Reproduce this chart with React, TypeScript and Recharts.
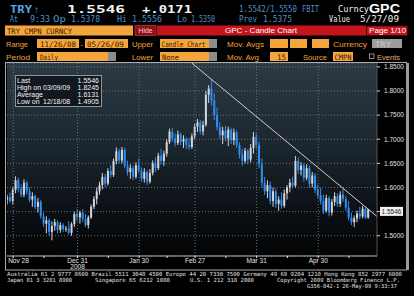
import React from 'react';
import { ComposedChart, Bar, XAxis, YAxis, CartesianGrid, ReferenceLine } from 'recharts';

// Daily TRY candles, 11/26/08 - 05/26/09 (weekdays)
const OPEN = [
  1.575, 1.580, 1.572, 1.595, 1.615, 1.598, 1.585, 1.610, 1.592, 1.575,
  1.582, 1.560, 1.570, 1.540, 1.525, 1.532, 1.508, 1.520, 1.528, 1.512,
  1.522, 1.514, 1.515, 1.506, 1.524, 1.545, 1.538, 1.548, 1.535, 1.522,
  1.538, 1.560, 1.576, 1.592, 1.605, 1.622, 1.608, 1.634, 1.626, 1.655,
  1.675, 1.656, 1.678, 1.645, 1.632, 1.640, 1.622, 1.646, 1.635, 1.618,
  1.632, 1.612, 1.630, 1.650, 1.640, 1.666, 1.655, 1.670, 1.694, 1.716,
  1.702, 1.692, 1.710, 1.695, 1.700, 1.688, 1.684, 1.706, 1.726, 1.735,
  1.716, 1.730, 1.792, 1.805, 1.780, 1.750, 1.725, 1.708, 1.718, 1.702,
  1.720, 1.698, 1.714, 1.688, 1.668, 1.655, 1.676, 1.658, 1.682, 1.705,
  1.688, 1.648, 1.610, 1.592, 1.605, 1.572, 1.592, 1.566, 1.575, 1.562,
  1.588, 1.600, 1.610, 1.604, 1.655, 1.636, 1.645, 1.620, 1.640, 1.608,
  1.625, 1.595, 1.584, 1.572, 1.552, 1.578, 1.548, 1.570, 1.582, 1.566,
  1.585, 1.576, 1.558, 1.538, 1.528, 1.536, 1.546, 1.540, 1.556, 1.5378,
];
const HIGH = [
  1.585, 1.590, 1.600, 1.623, 1.620, 1.606, 1.617, 1.614, 1.600, 1.590,
  1.585, 1.578, 1.574, 1.548, 1.540, 1.536, 1.530, 1.535, 1.532, 1.528,
  1.526, 1.520, 1.530, 1.528, 1.550, 1.556, 1.552, 1.555, 1.545, 1.542,
  1.565, 1.582, 1.600, 1.612, 1.630, 1.628, 1.640, 1.646, 1.660, 1.683,
  1.680, 1.684, 1.682, 1.655, 1.648, 1.645, 1.652, 1.660, 1.642, 1.640,
  1.636, 1.638, 1.656, 1.662, 1.672, 1.680, 1.676, 1.700, 1.722, 1.724,
  1.712, 1.718, 1.714, 1.708, 1.704, 1.702, 1.712, 1.732, 1.742, 1.740,
  1.738, 1.800, 1.812, 1.8245, 1.795, 1.766, 1.735, 1.726, 1.728, 1.726,
  1.724, 1.722, 1.718, 1.694, 1.680, 1.682, 1.680, 1.690, 1.715, 1.712,
  1.695, 1.660, 1.622, 1.615, 1.612, 1.600, 1.598, 1.582, 1.590, 1.596,
  1.605, 1.618, 1.622, 1.665, 1.662, 1.652, 1.650, 1.648, 1.645, 1.632,
  1.630, 1.606, 1.600, 1.585, 1.585, 1.582, 1.576, 1.590, 1.588, 1.592,
  1.598, 1.582, 1.572, 1.548, 1.542, 1.552, 1.560, 1.562, 1.560, 1.5556,
];
const LOW = [
  1.565, 1.568, 1.565, 1.588, 1.590, 1.580, 1.580, 1.585, 1.570, 1.560,
  1.555, 1.548, 1.535, 1.518, 1.505, 1.500, 1.4905, 1.510, 1.505, 1.506,
  1.508, 1.508, 1.502, 1.500, 1.518, 1.530, 1.525, 1.528, 1.518, 1.515,
  1.535, 1.555, 1.565, 1.585, 1.596, 1.600, 1.604, 1.620, 1.622, 1.648,
  1.650, 1.650, 1.640, 1.625, 1.618, 1.615, 1.618, 1.630, 1.612, 1.610,
  1.605, 1.608, 1.625, 1.632, 1.636, 1.648, 1.645, 1.664, 1.690, 1.695,
  1.685, 1.688, 1.688, 1.682, 1.680, 1.678, 1.680, 1.700, 1.715, 1.710,
  1.708, 1.726, 1.775, 1.770, 1.740, 1.718, 1.700, 1.690, 1.696, 1.686,
  1.690, 1.688, 1.682, 1.660, 1.645, 1.650, 1.648, 1.652, 1.670, 1.680,
  1.640, 1.600, 1.585, 1.578, 1.565, 1.560, 1.558, 1.552, 1.556, 1.558,
  1.575, 1.590, 1.598, 1.600, 1.628, 1.625, 1.612, 1.615, 1.600, 1.600,
  1.588, 1.578, 1.565, 1.545, 1.548, 1.540, 1.542, 1.562, 1.560, 1.560,
  1.570, 1.552, 1.532, 1.522, 1.518, 1.528, 1.534, 1.536, 1.535, 1.535,
];
const CLOSE = [
  1.580, 1.572, 1.595, 1.615, 1.598, 1.585, 1.610, 1.592, 1.575, 1.582,
  1.560, 1.570, 1.540, 1.525, 1.532, 1.508, 1.520, 1.528, 1.512, 1.522,
  1.514, 1.515, 1.506, 1.524, 1.545, 1.538, 1.548, 1.535, 1.522, 1.538,
  1.560, 1.576, 1.592, 1.605, 1.622, 1.608, 1.634, 1.626, 1.655, 1.675,
  1.656, 1.678, 1.645, 1.632, 1.640, 1.622, 1.646, 1.635, 1.618, 1.632,
  1.612, 1.630, 1.650, 1.640, 1.666, 1.655, 1.670, 1.694, 1.716, 1.702,
  1.692, 1.710, 1.695, 1.700, 1.688, 1.684, 1.706, 1.726, 1.735, 1.716,
  1.730, 1.792, 1.805, 1.780, 1.750, 1.725, 1.708, 1.718, 1.702, 1.720,
  1.698, 1.714, 1.688, 1.668, 1.655, 1.676, 1.658, 1.682, 1.705, 1.688,
  1.648, 1.610, 1.592, 1.605, 1.572, 1.592, 1.566, 1.575, 1.562, 1.588,
  1.600, 1.610, 1.604, 1.655, 1.636, 1.645, 1.620, 1.640, 1.608, 1.625,
  1.595, 1.584, 1.572, 1.552, 1.578, 1.548, 1.570, 1.582, 1.566, 1.585,
  1.576, 1.558, 1.538, 1.528, 1.536, 1.546, 1.540, 1.556, 1.5375, 1.5546,
];

// x ticks are trading-day indexes
const MAJOR_TICKS = [2, 25, 47, 67, 89, 111];
const MAJOR_LABELS = ['Nov 28', 'Dec 31', 'Jan 30', 'Feb 27', 'Mar 31', 'Apr 30'];
const MINOR_TICKS = [13, 36, 57, 78, 100, 122];
const YEAR_LABEL = { index: 25, text: '2008' };
const Y_TICKS = [1.5, 1.55, 1.6, 1.65, 1.7, 1.75, 1.8, 1.85];

// hand-drawn trend line (day index, price)
const TREND = [{ x: 65.8, y: 1.858 }, { x: 132, y: 1.54 }];

const LAST = 1.5546;
const STATS = [
  { label: 'Last', date: '', value: '1.5546' },
  { label: 'High on', date: '03/09/09', value: '1.8245' },
  { label: 'Average', date: '', value: '1.6131' },
  { label: 'Low on', date: '12/18/08', value: '1.4905' },
];

const UP_COLOR = '#d2d6da';
const DOWN_COLOR = '#2f8ef0';
const ORANGE_TEXT = '#f2a234';
const ORANGE_BOX = '#f4a53c';
const BOX_TEXT = '#3a2000';
const GRAY_END = '#8d8d8d';
const RED = '#c4141e';
const BLUE_TEXT = '#4a92cc';
const SANS = "'Liberation Sans', Arial, sans-serif";
const MONO = "'DejaVu Sans Mono', monospace";

const candles = CLOSE.map((c, i) => ({
  i,
  open: OPEN[i],
  high: HIGH[i],
  low: LOW[i],
  close: c,
  range: [LOW[i], HIGH[i]],
}));

// eslint-disable-next-line @typescript-eslint/no-explicit-any
function Candle(props: any) {
  const { x, y, width, height, payload } = props;
  if (x == null || !payload) return null;
  const { open, high, low, close } = payload;
  const top = Math.min(y, y + height);
  const h = Math.abs(height);
  const pxPer = h / (high - low || 1e-6);
  const bodyTop = top + (high - Math.max(open, close)) * pxPer;
  const bodyBot = top + (high - Math.min(open, close)) * pxPer;
  const color = close >= open ? UP_COLOR : DOWN_COLOR;
  const cx = x + width / 2;
  return (
    <g>
      <line x1={cx} x2={cx} y1={top} y2={top + h} stroke={color} strokeWidth={1} />
      <rect x={x} y={bodyTop} width={width} height={Math.max(1, bodyBot - bodyTop)} fill={color} />
    </g>
  );
}

// eslint-disable-next-line @typescript-eslint/no-explicit-any
function XTick(props: any) {
  const { x, y, payload } = props;
  const idx = MAJOR_TICKS.indexOf(payload.value);
  if (idx < 0) {
    return <line x1={x} x2={x} y1={y} y2={y + 2} stroke="#e8e8e8" />;
  }
  const first = idx === 0;
  return (
    <g>
      <line x1={x} x2={x} y1={y} y2={y + 2} stroke="#e8e8e8" />
      <text
        x={first ? x - 5 : x}
        y={y + 6.5}
        textAnchor={first ? 'start' : 'middle'}
        fill="#e6e6e6"
        fontSize={6.5}
        fontFamily={SANS}
      >
        {MAJOR_LABELS[idx]}
      </text>
      {payload.value === YEAR_LABEL.index && (
        <text x={x} y={y + 12.5} textAnchor="middle" fill="#e6e6e6" fontSize={6.5} fontFamily={SANS}>
          {YEAR_LABEL.text}
        </text>
      )}
    </g>
  );
}

// eslint-disable-next-line @typescript-eslint/no-explicit-any
function LastTag(props: any) {
  const vb = props.viewBox;
  if (!vb) return null;
  const left = vb.x + vb.width + 3;
  return (
    <g>
      <rect x={left} y={vb.y - 2.5} width={23} height={9} fill="#f2f2f2" />
      <text x={left + 11.5} y={vb.y + 4.3} textAnchor="middle" fill="#1a1a1a" fontSize={6.5} fontFamily={SANS}>
        {LAST.toFixed(4)}
      </text>
    </g>
  );
}

// the last-price tag sits over this tick's label, as on the screen
const hiddenTickLabel = (v: number) => Math.abs(v - LAST) < 0.01;

type TProps = {
  x: number;
  y: number;
  w?: number;
  size: number;
  fill: string;
  font?: string;
  bold?: boolean;
  anchor?: 'start' | 'middle' | 'end';
  children: React.ReactNode;
};

function T({ x, y, w, size, fill, font = SANS, bold, anchor = 'start', children }: TProps) {
  return (
    <text
      x={x}
      y={y}
      fontSize={size}
      fill={fill}
      fontFamily={font}
      fontWeight={bold ? 'bold' : 'normal'}
      textAnchor={anchor}
      textLength={w}
      lengthAdjust={w ? 'spacingAndGlyphs' : undefined}
    >
      {children}
    </text>
  );
}

function Header() {
  return (
    <g>
      {/* ticker line */}
      <T x={10} y={13} w={22} size={10} fill="#55a8ea" font={MONO} bold>TRY</T>
      <T x={34} y={13} w={5} size={10} fill="#55a8ea" font={SANS} bold>↑</T>
      <T x={67} y={13} w={58} size={11} fill="#f4f4f4" font={MONO} bold>1.5546</T>
      <T x={142} y={13} w={50} size={11} fill="#f4f4f4" font={MONO} bold>+.0171</T>
      <T x={239} y={12} w={58} size={8} fill={BLUE_TEXT} font={MONO}>1.5542/1.5550</T>
      <T x={302} y={12} w={17} size={8} fill={BLUE_TEXT} font={MONO}>FBIT</T>
      <T x={338} y={12} w={31} size={8.5} fill="#f0f0f0" font={MONO}>Curncy</T>
      <T x={369} y={13} w={31} size={12.5} fill="#ffffff" bold>GPC</T>

      <T x={10} y={22} w={8} size={8} fill={BLUE_TEXT} font={MONO}>At</T>
      <T x={30} y={22} w={20} size={8} fill={BLUE_TEXT} font={MONO}>9:33</T>
      <T x={53} y={22} w={13} size={8} fill={BLUE_TEXT} font={MONO}>Op</T>
      <T x={71} y={22} w={29} size={8} fill={BLUE_TEXT} font={MONO}>1.5378</T>
      <T x={117} y={22} w={10} size={8} fill={BLUE_TEXT} font={MONO}>Hi</T>
      <T x={132} y={22} w={30} size={8} fill={BLUE_TEXT} font={MONO}>1.5556</T>
      <T x={177} y={22} w={10} size={8} fill={BLUE_TEXT} font={MONO}>Lo</T>
      <T x={191} y={22} w={24} size={8} fill={BLUE_TEXT} font={MONO}>1.5350</T>
      <T x={239} y={22} w={18} size={8} fill={BLUE_TEXT} font={MONO}>Prev</T>
      <T x={263} y={22} w={29} size={8} fill={BLUE_TEXT} font={MONO}>1.5375</T>
      <T x={329} y={22} w={21} size={8} fill="#f0f0f0" font={MONO}>Value</T>
      <T x={360} y={22} w={39} size={8} fill="#f0f0f0" font={MONO}>5/27/09</T>

      {/* title bar */}
      <rect x={5} y={25.5} width={128} height={10} fill={ORANGE_BOX} />
      <T x={7} y={33.5} w={65} size={7.5} fill={BOX_TEXT} font={MONO}>TRY CMPN CURNCY</T>
      <rect x={135} y={25.5} width={21} height={10} fill="#8e1018" stroke="#d04050" strokeWidth={0.6} />
      <T x={138.5} y={33} w={14} size={7} fill="#f6d0d4">Hide</T>
      <rect x={157} y={25.5} width={209} height={10} fill={RED} />
      <T x={225} y={33.3} w={72} size={8} fill="#ffffff">GPC - Candle Chart</T>
      <rect x={366.5} y={26} width={41} height={9.5} fill={RED} stroke="#3a0508" strokeWidth={0.8} />
      <T x={369} y={33.3} w={37} size={8} fill="#ffffff">Page 1/10</T>

      {/* settings row 1 */}
      <T x={6} y={46.5} w={22} size={7.5} fill={ORANGE_TEXT}>Range</T>
      <rect x={37} y={39} width={42} height={9} fill={ORANGE_BOX} />
      <T x={40} y={46.5} w={36} size={7.5} fill={BOX_TEXT} font={MONO}>11/26/08</T>
      <T x={80.5} y={46.5} size={7.5} fill={ORANGE_TEXT}>-</T>
      <rect x={85} y={39} width={43} height={9} fill={ORANGE_BOX} />
      <T x={87} y={46.5} w={37} size={7.5} fill={BOX_TEXT} font={MONO}>05/26/09</T>
      <T x={132} y={46.5} w={21} size={7.5} fill={ORANGE_TEXT}>Upper</T>
      <rect x={160} y={39} width={49} height={9} fill={ORANGE_BOX} />
      <rect x={209} y={39} width={8} height={9} fill={GRAY_END} />
      <T x={161.5} y={46.5} w={44} size={7.5} fill={BOX_TEXT} font={MONO}>Candle Chart</T>
      <T x={227} y={46.5} w={37} size={7.5} fill={ORANGE_TEXT}>Mov. Avgs</T>
      <rect x={270} y={39} width={18} height={9} fill={ORANGE_BOX} />
      <rect x={290} y={39} width={17} height={9} fill={ORANGE_BOX} />
      <rect x={312} y={39} width={17} height={9} fill={ORANGE_BOX} />
      <T x={333} y={46.5} w={34} size={7.5} fill={ORANGE_TEXT}>Currency</T>
      <rect x={372} y={39} width={30} height={9} fill="#9c9c9c" />
      <T x={375} y={46.5} w={16} size={7.5} fill="#c9c9c9" font={MONO}>TRY</T>

      {/* settings row 2 */}
      <T x={6} y={59.5} w={24} size={7.5} fill={ORANGE_TEXT}>Period</T>
      <rect x={37} y={52} width={71} height={9} fill={ORANGE_BOX} />
      <rect x={108} y={52} width={8} height={9} fill={GRAY_END} />
      <T x={40} y={59.5} w={18} size={7.5} fill={BOX_TEXT} font={MONO}>Daily</T>
      <T x={132} y={59.5} w={21} size={7.5} fill={ORANGE_TEXT}>Lower</T>
      <rect x={160} y={52} width={49} height={9} fill={ORANGE_BOX} />
      <rect x={209} y={52} width={8} height={9} fill={GRAY_END} />
      <T x={162} y={59.5} w={17} size={7.5} fill={BOX_TEXT} font={MONO}>None</T>
      <T x={227} y={59.5} w={32} size={7.5} fill={ORANGE_TEXT}>Mov. Avg</T>
      <rect x={270} y={52} width={18} height={9} fill={ORANGE_BOX} />
      <T x={286} y={59.5} w={9} size={7.5} fill={BOX_TEXT} font={MONO} anchor="end">15</T>
      <T x={303} y={59.5} w={24} size={7.5} fill={ORANGE_TEXT}>Source</T>
      <rect x={333} y={52} width={20} height={9} fill={ORANGE_BOX} />
      <T x={334.5} y={59.5} w={17} size={7.5} fill={BOX_TEXT} font={MONO}>CMPN</T>
      <rect x={369.5} y={54} width={4.5} height={4.5} fill="none" stroke="#c8c8c8" strokeWidth={0.7} />
      <T x={377} y={59.5} w={23} size={7.5} fill="#e2b078">Events</T>
    </g>
  );
}

function Footer() {
  return (
    <g>
      <T x={7} y={276} w={395} size={5.6} fill="#e0e0e0" font={MONO}>
        Australia 61 2 9777 8600 Brazil 5511 3048 4500 Europe 44 20 7330 7500 Germany 49 69 9204 1210 Hong Kong 852 2977 6000
      </T>
      <T x={7} y={281.5} w={65} size={5.6} fill="#e0e0e0" font={MONO}>Japan 81 3 3201 8900</T>
      <T x={95} y={281.5} w={75} size={5.6} fill="#e0e0e0" font={MONO}>Singapore 65 6212 1000</T>
      <T x={190} y={281.5} w={64} size={5.6} fill="#e0e0e0" font={MONO}>U.S. 1 212 318 2000</T>
      <T x={277} y={281.5} w={123} size={5.6} fill="#e0e0e0" font={MONO}>Copyright 2009 Bloomberg Finance L.P.</T>
      <T x={307} y={287.5} w={90} size={5.6} fill="#e0e0e0" font={MONO}>G356-842-1 26-May-09  9:33:37</T>
    </g>
  );
}

function StatsBox() {
  return (
    <g>
      <rect x={15.5} y={75.5} width={86} height={31} fill="#0c1218" fillOpacity={0.8} stroke="#8c969e" strokeWidth={1} />
      {STATS.map((s, k) => (
        <g key={s.label}>
          <T x={17} y={83 + k * 7} size={7} fill="#f2f2f2">{s.label}</T>
          {s.date && <T x={43} y={83 + k * 7} size={7} fill="#f2f2f2">{s.date}</T>}
          <T x={99} y={83 + k * 7} size={7} fill="#f2f2f2" anchor="end">{s.value}</T>
        </g>
      ))}
    </g>
  );
}

export default function App() {
  return (
    <div style={{ position: 'relative', width: 414, height: 296, background: '#000', overflow: 'hidden' }}>
      <style>{'body{margin:0}'}</style>
      <div style={{ position: 'absolute', left: 0, top: 56 }}>
        <ComposedChart width={414} height={216} data={candles} margin={{ top: 7, right: 7, left: 7, bottom: 2 }}>
          <defs>
            <linearGradient id="plotBg" x1="0" y1="0" x2="0" y2="1">
              <stop offset="0%" stopColor="#2c3a45" />
              <stop offset="45%" stopColor="#1b252d" />
              <stop offset="80%" stopColor="#0a0e12" />
              <stop offset="100%" stopColor="#030405" />
            </linearGradient>
          </defs>
          <CartesianGrid
            vertical={false}
            stroke="#66727c"
            strokeDasharray="1 2"
            fill="url(#plotBg)"
            fillOpacity={1}
          />
          <XAxis
            dataKey="i"
            type="number"
            domain={[-0.2, 132]}
            ticks={[...MAJOR_TICKS, ...MINOR_TICKS].sort((a, b) => a - b)}
            interval={0}
            tick={<XTick />}
            tickLine={false}
            tickSize={0}
            tickMargin={0}
            axisLine={{ stroke: '#b4b4b4' }}
            height={14}
            allowDataOverflow
          />
          <YAxis
            orientation="right"
            type="number"
            domain={[1.458, 1.858]}
            ticks={Y_TICKS}
            width={30}
            tickSize={3}
            tickMargin={4}
            axisLine={{ stroke: '#555' }}
            tickLine={{ stroke: '#cfcfcf' }}
            tick={{ fill: '#e2e2e2', fontSize: 6.5, fontFamily: SANS }}
            tickFormatter={(v: number) => (hiddenTickLabel(v) ? '' : v.toFixed(4))}
            allowDataOverflow
          />
          {MAJOR_TICKS.map((t) => (
            <ReferenceLine key={t} x={t} stroke="#66727c" strokeDasharray="1 2" />
          ))}
          <Bar dataKey="range" shape={Candle} barSize={2} isAnimationActive={false} />
          <ReferenceLine segment={TREND} stroke="#d0d0d0" strokeWidth={1} ifOverflow="visible" />
          <ReferenceLine y={LAST} stroke="none" label={LastTag} />
        </ComposedChart>
      </div>
      <svg width={414} height={296} style={{ position: 'absolute', left: 0, top: 0, pointerEvents: 'none' }}>
        <Header />
        <rect x={5.5} y={62.5} width={401} height={207.5} fill="none" stroke="#a8acb0" strokeWidth={1} />
        <rect x={406} y={63} width={3} height={207} fill="#9a9a9a" />
        <StatsBox />
        <Footer />
      </svg>
    </div>
  );
}
